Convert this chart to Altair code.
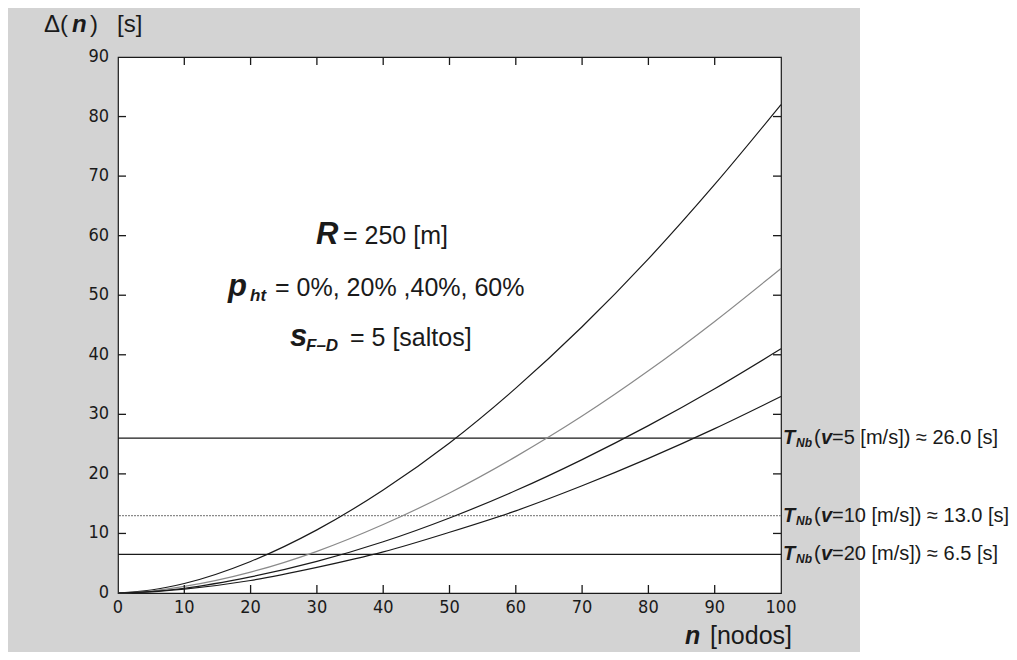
import altair as alt
import pandas as pd

# ---- data ----
n_nodes = [0, 5, 10, 20, 30, 40, 50, 60, 70, 80, 90, 100]
delta_p0 = [0, 0.5, 1.6, 5.3, 10.6, 17.3, 25.2, 34.4, 44.7, 56.1, 68.6, 82.0]
delta_p20 = [0, 0.33, 1.1, 3.5, 7.0, 11.5, 16.8, 22.9, 29.7, 37.3, 45.6, 54.5]
delta_p40 = [0, 0.25, 0.8, 2.7, 5.3, 8.6, 12.6, 17.2, 22.4, 28.1, 34.3, 41.0]
delta_p60 = [0, 0.2, 0.65, 2.1, 4.3, 6.9, 10.2, 13.8, 18.0, 22.6, 27.6, 33.0]
series_names = ["p0", "p20", "p40", "p60"]
series_colors = ["#1a1a1a", "#8a8a8a", "#1a1a1a", "#1a1a1a"]

t_nb_values = [26.0, 13.0, 6.5]
t_nb_texts = ["=5 [m/s]) \u2248 26.0 [s]", "=10 [m/s]) \u2248 13.0 [s]", "=20 [m/s]) \u2248 6.5 [s]"]
t_nb_colors = ["#1a1a1a", "#8a8a8a", "#1a1a1a"]

x_ticks = list(range(0, 101, 10))
y_ticks = list(range(0, 91, 10))
x_inner_ticks = list(range(10, 100, 10))
y_inner_ticks = list(range(10, 90, 10))

W, H = 663, 536
TS = 8
FONT = "Liberation Sans, Arial, sans-serif"
TICKFONT = "Liberation Sans Narrow, DejaVu Sans Condensed, Liberation Sans, sans-serif"

rows = []
for name, vals in zip(series_names, [delta_p0, delta_p20, delta_p40, delta_p60]):
    for n, v in zip(n_nodes, vals):
        rows.append({"n": n, "delta": v, "serie": name})
df = pd.DataFrame(rows)
df_t = pd.DataFrame({"t": t_nb_values, "txt": t_nb_texts, "c": t_nb_colors})
df_t["T"] = "T"
df_t["Nb"] = "Nb"
df_t["par"] = "("
df_t["v"] = "v"
one = pd.DataFrame({"a": [0]})
df_xt = pd.DataFrame({"xt": x_inner_ticks})
df_yt = pd.DataFrame({"yt": y_inner_ticks})
df_xl = pd.DataFrame({"xl": x_ticks})
df_yl = pd.DataFrame({"yl": y_ticks})

xs = alt.Scale(domain=[0, 100], nice=False)
ys = alt.Scale(domain=[0, 90], nice=False)

# white strip at the right of the scanned grey area
right_white = alt.Chart(one).mark_rect(color="white").encode(
    x=alt.value(742), x2=alt.value(900), y=alt.value(-60), y2=alt.value(620))

lines = alt.Chart(df).mark_line(strokeWidth=1.2, interpolate="monotone").encode(
    x=alt.X("n:Q", scale=xs, axis=None),
    y=alt.Y("delta:Q", scale=ys, axis=None),
    color=alt.Color("serie:N", scale=alt.Scale(domain=series_names, range=series_colors), legend=None),
)

# inward tick marks on all four sides (MATLAB style)
tick_style = dict(color="#1a1a1a", strokeWidth=1.3)
ticks_bottom = alt.Chart(df_xt).mark_rule(**tick_style).encode(
    x=alt.X("xt:Q", scale=xs, axis=None), y=alt.value(H), y2=alt.value(H - TS))
ticks_top = alt.Chart(df_xt).mark_rule(**tick_style).encode(
    x=alt.X("xt:Q", scale=xs, axis=None), y=alt.value(0), y2=alt.value(TS))
ticks_left = alt.Chart(df_yt).mark_rule(**tick_style).encode(
    y=alt.Y("yt:Q", scale=ys, axis=None), x=alt.value(0), x2=alt.value(TS))
ticks_right = alt.Chart(df_yt).mark_rule(**tick_style).encode(
    y=alt.Y("yt:Q", scale=ys, axis=None), x=alt.value(W), x2=alt.value(W - TS))

# tick labels
xlabels = alt.Chart(df_xl).mark_text(
    align="center", baseline="top", font=TICKFONT, fontSize=18, color="#1a1a1a").encode(
    x=alt.X("xl:Q", scale=xs, axis=None), y=alt.value(H + 6), text=alt.Text("xl:Q"))
ylabels = alt.Chart(df_yl).mark_text(
    align="right", baseline="middle", font=TICKFONT, fontSize=18, color="#1a1a1a").encode(
    y=alt.Y("yl:Q", scale=ys, axis=None), x=alt.value(-9), text=alt.Text("yl:Q"))

rules = alt.Chart(df_t).mark_rule(strokeWidth=1.2).encode(
    y=alt.Y("t:Q", scale=ys, axis=None),
    color=alt.Color("c:N", scale=None),
    strokeDash=alt.condition(alt.datum.t == 13, alt.value([2, 1]), alt.value([1, 0])),
)


def txt(s, x, y, size, bold=False, italic=False, color="#1a1a1a"):
    return alt.Chart(one).mark_text(
        text=s, align="left", baseline="alphabetic", font=FONT, fontSize=size,
        fontWeight="bold" if bold else "normal", fontStyle="italic" if italic else "normal",
        color=color,
    ).encode(x=alt.value(x), y=alt.value(y))


labels = []
# y-axis title
labels += [txt("\u0394(", -74, -25, 24), txt("n", -46, -25, 24, True, True),
           txt(")", -28, -25, 24), txt("[s]", -1, -25, 24)]
# x-axis title
labels += [txt("n", 567, 587, 25, True, True), txt("[nodos]", 592, 587, 25)]
# central annotation
labels += [txt("R", 198, 187, 31, True, True), txt("= 250 [m]", 225, 187, 25)]
labels += [txt("p", 110, 239, 31, True, True), txt("ht", 132, 244, 17, True, True),
           txt("= 0%, 20% ,40%, 60%", 157, 239, 25)]
labels += [txt("s", 172, 289, 31, True, True), txt("F\u2013D", 188, 294, 17, True, True),
           txt("= 5 [saltos]", 232, 289, 25)]


def tlabel(field, x, dy, size, bold, italic):
    return alt.Chart(df_t).mark_text(
        align="left", baseline="middle", font=FONT, fontSize=size, dy=dy,
        fontWeight="bold" if bold else "normal", fontStyle="italic" if italic else "normal",
        color="#1a1a1a",
    ).encode(x=alt.value(x), y=alt.Y("t:Q", scale=ys, axis=None), text=alt.Text(field))


labels += [tlabel("T:N", 665, 0, 20, True, True), tlabel("Nb:N", 678, 5, 12, True, True),
           tlabel("par:N", 696, 0, 20, False, False), tlabel("v:N", 703, 0, 20, True, True),
           tlabel("txt:N", 714, 0, 20, False, False)]

chart = alt.layer(right_white, rules, lines, ticks_bottom, ticks_top, ticks_left, ticks_right,
                  xlabels, ylabels, *labels).properties(
    width=W, height=H,
    autosize=alt.AutoSizeParams(type="none"),
    padding={"left": 110, "top": 49, "right": 228, "bottom": 59},
    background="#d3d3d3",
).configure_view(fill="white", stroke="#1a1a1a", strokeWidth=1.2)

chart.save("out.html", embed_options={"renderer": "svg", "actions": False})
